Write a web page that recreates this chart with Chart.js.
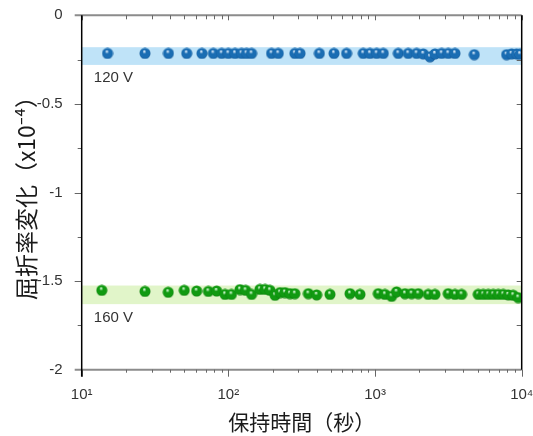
<!DOCTYPE html>
<html><head><meta charset="utf-8">
<script src="https://cdn.jsdelivr.net/npm/chart.js@4.4.0/dist/chart.umd.min.js"></script>
<style>html,body{margin:0;padding:0;background:#fff;}</style>
</head><body>
<canvas id="c" width="533" height="436" style="display:block;width:533px;height:436px"></canvas>
<script>
// ---- data ----
const x120 = [15, 27, 39, 52, 66, 79, 90, 100, 111, 123, 133, 144, 197, 219, 284, 308, 417, 525, 640, 831, 923, 1026, 1138, 1440, 1683, 1921, 2133, 2368, 2563, 2846, 3157, 3508, 4748, 7887, 8535, 9230, 9730];
const y120 = [-0.215, -0.215, -0.215, -0.215, -0.215, -0.215, -0.215, -0.215, -0.215, -0.215, -0.215, -0.215, -0.215, -0.215, -0.215, -0.215, -0.215, -0.215, -0.215, -0.215, -0.215, -0.215, -0.215, -0.215, -0.215, -0.215, -0.218, -0.234, -0.218, -0.215, -0.215, -0.215, -0.222, -0.222, -0.218, -0.218, -0.22];
const x160 = [13.7, 27, 38.9, 50, 60.8, 73, 83.2, 94.9, 105, 120, 131, 144, 164, 178, 192, 208, 225, 243, 263, 284, 351, 400, 493, 675, 789, 1052, 1168, 1297, 1403, 1600, 1776, 1971, 2307, 2560, 3156, 3506, 3891, 5053, 5470, 5916, 6400, 6925, 7490, 8100, 8757, 9470];
const y160 = [-1.552, -1.558, -1.563, -1.552, -1.556, -1.558, -1.556, -1.575, -1.575, -1.548, -1.552, -1.575, -1.547, -1.547, -1.552, -1.580, -1.565, -1.565, -1.571, -1.571, -1.571, -1.578, -1.575, -1.571, -1.575, -1.571, -1.575, -1.586, -1.561, -1.571, -1.571, -1.571, -1.575, -1.575, -1.571, -1.575, -1.575, -1.575, -1.575, -1.575, -1.575, -1.575, -1.575, -1.578, -1.580, -1.593];
const xTickValues = [10, 100, 1000, 10000];
const xTickLabels = ['10¹', '10²', '10³', '10⁴'];
const yTickValues = [-2, -1.5, -1, -0.5, 0];
const yTickLabels = ['-2', '-1.5', '-1', '-0.5', '0'];
const seriesNames = ['120 V', '160 V'];
const bandRanges = [[-0.18, -0.28], [-1.525, -1.63]];
const labelAnchors = [[12.1, -0.355], [12.1, -1.71]];

// ---- styles ----
const TICK_FONT = "'Liberation Sans', Arial, sans-serif";
const CJK_FONT = "'Noto Sans CJK JP', 'Noto Sans', sans-serif";

function sphere(light, base, dark) {
  const c = document.createElement('canvas');
  c.width = 12; c.height = 12;
  const g = c.getContext('2d');
  const grd = g.createRadialGradient(5.2, 3.8, 0.3, 6, 6, 6);
  grd.addColorStop(0, light);
  grd.addColorStop(0.3, base);
  grd.addColorStop(0.8, base);
  grd.addColorStop(1, dark);
  g.fillStyle = grd;
  g.beginPath(); g.arc(6, 6, 5.5, 0, Math.PI * 2); g.fill();
  return c;
}
const blueBall = sphere('#e6f2ff', '#1a6db3', '#0c4a86');
const greenBall = sphere('#e0ffe0', '#119a11', '#0a6c0a');

const framePlugin = {
  id: 'framePlugin',
  beforeDatasetsDraw(chart) {
    const {ctx, chartArea: a, scales: {x, y}} = chart;
    const cols = ['#bfe3f8', '#e1f5c9'];
    ctx.save();
    bandRanges.forEach((r, i) => {
      const y0 = y.getPixelForValue(r[0]), y1 = y.getPixelForValue(r[1]);
      ctx.fillStyle = cols[i];
      ctx.fillRect(a.left, y0, a.right - a.left, y1 - y0);
    });
    ctx.restore();
  },
  afterDatasetsDraw(chart) {
    const {ctx, chartArea: a, scales: {x, y}} = chart;
    ctx.save();
    // text labels
    ctx.fillStyle = '#333';
    ctx.font = "15px " + TICK_FONT;
    ctx.textAlign = 'left'; ctx.textBaseline = 'middle';
    seriesNames.forEach((n, i) => {
      ctx.fillText(n, x.getPixelForValue(labelAnchors[i][0]), y.getPixelForValue(labelAnchors[i][1]));
    });
    // gray top and bottom lines
    ctx.strokeStyle = '#8c8c8c'; ctx.lineWidth = 2;
    ctx.beginPath();
    ctx.moveTo(a.left - 7, a.top); ctx.lineTo(a.right, a.top);
    ctx.moveTo(a.left - 7, a.bottom); ctx.lineTo(a.right, a.bottom);
    ctx.stroke();
    // ticks
    ctx.strokeStyle = '#666'; ctx.lineWidth = 1;
    ctx.beginPath();
    for (let d = 10; d < 10000; d *= 10) {
      for (let m = 2; m <= 9; m++) {
        const px = Math.round(x.getPixelForValue(d * m)) + 0.5;
        ctx.moveTo(px, a.bottom); ctx.lineTo(px, a.bottom + 3);
        ctx.moveTo(px, a.top); ctx.lineTo(px, a.top + 4);
      }
    }
    xTickValues.forEach(v => {
      const px = Math.round(x.getPixelForValue(v)) + 0.5;
      ctx.moveTo(px, a.bottom); ctx.lineTo(px, a.bottom + 7);
      ctx.moveTo(px, a.top); ctx.lineTo(px, a.top + 5);
    });
    for (let k = 1; k < 8; k++) {
      const v = -0.25 * k;
      const py = Math.round(y.getPixelForValue(v)) + 0.5;
      const len = (k % 2 === 0) ? 7 : 4;
      ctx.moveTo(a.left - len, py); ctx.lineTo(a.left, py);
      ctx.moveTo(a.right - 5, py); ctx.lineTo(a.right, py);
    }
    ctx.stroke();
    // black left/right axis lines
    ctx.strokeStyle = '#000'; ctx.lineWidth = 1.5;
    ctx.beginPath();
    ctx.moveTo(a.left, a.top); ctx.lineTo(a.left, a.bottom + 7);
    ctx.moveTo(a.right, a.top); ctx.lineTo(a.right, a.bottom);
    ctx.stroke();
    ctx.restore();
  }
};

new Chart(document.getElementById('c'), {
  type: 'scatter',
  data: {
    datasets: [
      { label: seriesNames[0], data: x120.map((v, i) => ({x: v, y: y120[i]})), pointStyle: blueBall, pointRadius: 6, showLine: false },
      { label: seriesNames[1], data: x160.map((v, i) => ({x: v, y: y160[i]})), pointStyle: greenBall, pointRadius: 6, showLine: false }
    ]
  },
  options: {
    responsive: false,
    animation: false,
    events: [],
    layout: { padding: { top: 15.3, right: 11.3, left: 0, bottom: 0 } },
    plugins: { legend: { display: false }, tooltip: { enabled: false } },
    scales: {
      x: {
        type: 'logarithmic', position: 'bottom', min: 10, max: 10000,
        afterBuildTicks: s => { s.ticks = xTickValues.map(v => ({value: v, major: true})); },
        afterFit: s => { s.height = 66.3; s.paddingLeft = 0; s.paddingRight = 0; },
        grid: { display: false }, border: { display: false },
        ticks: {
          autoSkip: false, maxRotation: 0, padding: 8, color: '#333',
          font: { size: 15, family: TICK_FONT },
          callback: (v) => xTickLabels[xTickValues.indexOf(v)]
        },
        title: { display: true, text: '保持時間（秒）', color: '#1a1a1a',
          font: { size: 21, family: CJK_FONT }, padding: { top: 0, bottom: 1 } }
      },
      y: {
        type: 'linear', position: 'left', min: -2, max: 0,
        afterBuildTicks: s => { s.ticks = yTickValues.map(v => ({value: v})); },
        afterFit: s => { s.width = 81.7; s.paddingTop = 0; s.paddingBottom = 0; },
        grid: { display: false }, border: { display: false },
        ticks: {
          autoSkip: false, padding: 11, color: '#333',
          font: { size: 15, family: TICK_FONT },
          callback: (v) => yTickLabels[yTickValues.indexOf(v)]
        },
        title: { display: true, text: '屈折率変化（x10⁻⁴）', color: '#1a1a1a',
          font: { size: 23, family: CJK_FONT }, padding: { top: 12, bottom: 0 } }
      }
    }
  },
  plugins: [framePlugin]
});
</script>
</body></html>
